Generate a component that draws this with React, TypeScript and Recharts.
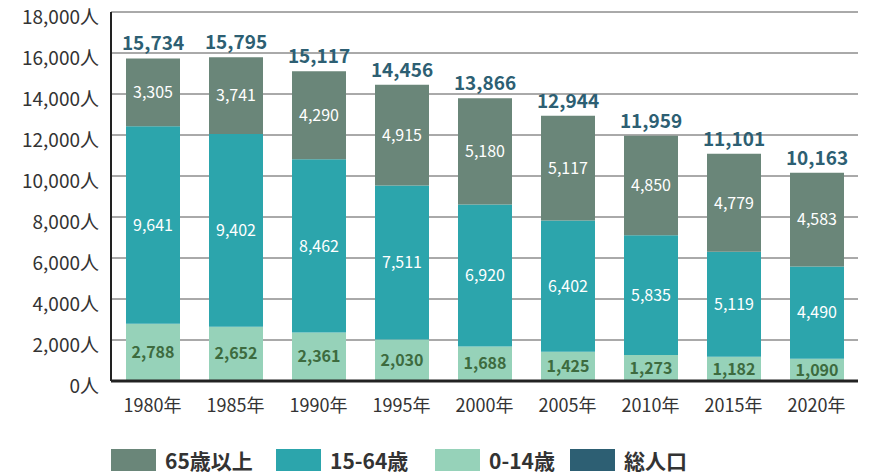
import React from 'react';
import { Bar, BarChart, CartesianGrid, LabelList, Legend, XAxis, YAxis } from 'recharts';

const years = ['1980年', '1985年', '1990年', '1995年', '2000年', '2005年', '2010年', '2015年', '2020年'];
const age0to14 = [2788, 2652, 2361, 2030, 1688, 1425, 1273, 1182, 1090];
const age15to64 = [9641, 9402, 8462, 7511, 6920, 6402, 5835, 5119, 4490];
const age65plus = [3305, 3741, 4290, 4915, 5180, 5117, 4850, 4779, 4583];
const totals = [15734, 15795, 15117, 14456, 13866, 12944, 11959, 11101, 10163];
const yTicks = [0, 2000, 4000, 6000, 8000, 10000, 12000, 14000, 16000, 18000];

const data = years.map((year, i) => ({
  year,
  young: age0to14[i],
  working: age15to64[i],
  elderly: age65plus[i],
  total: totals[i],
}));

const FONT = '"Noto Sans CJK JP", "Noto Sans", sans-serif';

const legendItems = [
  { name: '65歳以上', color: '#6a8679', left: 111 },
  { name: '15-64歳', color: '#2ca5ac', left: 276 },
  { name: '0-14歳', color: '#96d2b9', left: 435 },
  { name: '総人口', color: '#2d5f73', left: 570 },
];

const fmt = (v: any) => Number(v).toLocaleString('en-US');

const renderLegend = () => (
  <div style={{ position: 'relative', height: 53, fontFamily: FONT }}>
    {legendItems.map((item) => (
      <div
        key={item.name}
        style={{ position: 'absolute', left: item.left, top: 28, display: 'flex', alignItems: 'center' }}
      >
        <span style={{ display: 'inline-block', width: 45, height: 22, background: item.color, marginRight: 9 }} />
        <span style={{ fontSize: 21, fontWeight: 700, color: '#333', lineHeight: '22px' }}>{item.name}</span>
      </div>
    ))}
  </div>
);

export default function App() {
  return (
    <div style={{ position: 'absolute', left: 0, top: 0, fontFamily: FONT }}>
      <BarChart
        width={869}
        height={474}
        data={data}
        barSize={54}
        margin={{ top: 12, right: 11, left: 0, bottom: 0 }}
      >
        <CartesianGrid vertical={false} stroke="#555" strokeWidth={1} />
        <XAxis
          dataKey="year"
          height={40}
          axisLine={{ stroke: '#222', strokeWidth: 3 }}
          tickLine={false}
          tick={{ fontSize: 18, fill: '#333', fontFamily: FONT }}
          dy={10}
        />
        <YAxis
          width={111}
          domain={[0, 18000]}
          ticks={yTicks}
          interval={0}
          axisLine={{ stroke: '#222', strokeWidth: 2 }}
          tickLine={false}
          tick={{ fontSize: 19, fill: '#333', fontFamily: FONT }}
          tickFormatter={(v) => `${fmt(v)}人`}
          dx={-4}
          dy={5}
        />
        <Legend verticalAlign="bottom" height={53} content={renderLegend} />
        <Bar dataKey="young" stackId="a" fill="#96d2b9" isAnimationActive={false}>
          <LabelList
            dataKey="young"
            position="center"
            formatter={fmt}
            style={{ fill: '#3d6b3f', fontSize: 16, fontWeight: 700, fontFamily: FONT }}
          />
        </Bar>
        <Bar dataKey="working" stackId="a" fill="#2ca5ac" isAnimationActive={false}>
          <LabelList
            dataKey="working"
            position="center"
            formatter={fmt}
            style={{ fill: '#fff', fontSize: 16, fontFamily: FONT }}
          />
        </Bar>
        <Bar dataKey="elderly" stackId="a" fill="#6a8679" isAnimationActive={false}>
          <LabelList
            dataKey="elderly"
            position="center"
            formatter={fmt}
            style={{ fill: '#fff', fontSize: 16, fontFamily: FONT }}
          />
          <LabelList
            dataKey="total"
            position="top"
            offset={8}
            formatter={fmt}
            style={{ fill: '#2d5f73', fontSize: 19, fontWeight: 700, fontFamily: FONT }}
          />
        </Bar>
      </BarChart>
    </div>
  );
}
